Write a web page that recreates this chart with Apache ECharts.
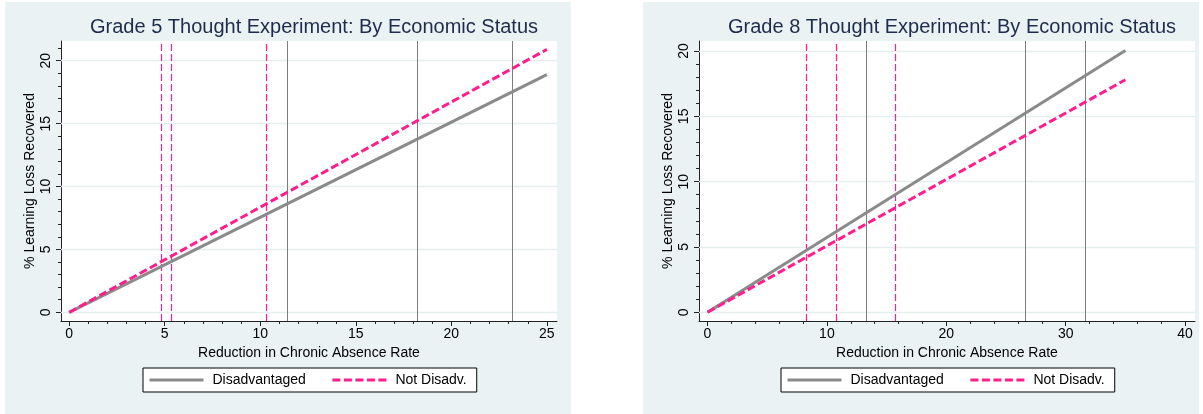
<!DOCTYPE html>
<html>
<head>
<meta charset="utf-8">
<script src="https://cdn.jsdelivr.net/npm/echarts@6/dist/echarts.min.js"></script>
<style>
  html, body { margin: 0; padding: 0; background: #ffffff; }
  #chart { width: 1203px; height: 414px; }
</style>
</head>
<body>
<div id="chart"></div>
<script>
// ---- Shared labels ----
const seriesNames = ['Disadvantaged', 'Not Disadv.'];
const xAxisTitle = 'Reduction in Chronic Absence Rate';
const yAxisTitle = '% Learning Loss Recovered';

// ---- Grade 5 ----
const g5Title = 'Grade 5 Thought Experiment: By Economic Status';
const g5X = [0, 25];
const g5Disadv = [0, 18.9];
const g5NotDisadv = [0, 20.9];
const g5DisadvMarks = [11.41, 18.21, 23.18];
const g5NotDisadvMarks = [4.84, 5.32, 10.33];
const g5XMajor = [0, 5, 10, 15, 20, 25];
const g5XMinor = [1, 2, 3, 4, 6, 7, 8, 9, 11, 12, 13, 14, 16, 17, 18, 19, 21, 22, 23, 24];
const g5YMajor = [0, 5, 10, 15, 20];
const g5YMinor = [1, 2, 3, 4, 6, 7, 8, 9, 11, 12, 13, 14, 16, 17, 18, 19, 21];

// ---- Grade 8 ----
const g8Title = 'Grade 8 Thought Experiment: By Economic Status';
const g8X = [0, 35];
const g8Disadv = [0, 20.05];
const g8NotDisadv = [0, 17.8];
const g8DisadvMarks = [13.33, 26.62, 31.62];
const g8NotDisadvMarks = [8.25, 10.76, 15.73];
const g8XMajor = [0, 10, 20, 30, 40];
const g8XMinor = [2, 4, 6, 8, 12, 14, 16, 18, 22, 24, 26, 28, 32, 34, 36, 38];
const g8YMajor = [0, 5, 10, 15, 20];
const g8YMinor = [1, 2, 3, 4, 6, 7, 8, 9, 11, 12, 13, 14, 16, 17, 18, 19];

// ---- Styling / layout ----
const FONT = '"Liberation Sans", Arial, Helvetica, sans-serif';
const PANEL_BG = '#eaf2f3';
const GRID_LINE = '#e6eff0';
const AXIS_COLOR = '#222222';
const GRAY = '#8a8a8a';
const PINK = '#ff1e8c';

const panels = [
  {
    title: g5Title, x: g5X, disadv: g5Disadv, notDisadv: g5NotDisadv,
    disadvMarks: g5DisadvMarks, notDisadvMarks: g5NotDisadvMarks,
    xMajor: g5XMajor, xMinor: g5XMinor, yMajor: g5YMajor, yMinor: g5YMinor,
    xRange: [-0.43, 25.53], yRange: [-0.69, 21.57],
    grid: { left: 61, top: 41, width: 496, height: 280 },
    bg: { x: 5, y: 2, width: 566, height: 412 },
    legendLeft: 143
  },
  {
    title: g8Title, x: g8X, disadv: g8Disadv, notDisadv: g8NotDisadv,
    disadvMarks: g8DisadvMarks, notDisadvMarks: g8NotDisadvMarks,
    xMajor: g8XMajor, xMinor: g8XMinor, yMajor: g8YMajor, yMinor: g8YMinor,
    xRange: [-0.71, 40.83], yRange: [-0.67, 20.77],
    grid: { left: 699, top: 41, width: 496, height: 280 },
    bg: { x: 643, y: 2, width: 556, height: 412 },
    legendLeft: 781
  }
];

const option = {
  animation: false,
  backgroundColor: '#ffffff',
  graphic: [],
  title: [],
  legend: [],
  grid: [],
  xAxis: [],
  yAxis: [],
  series: []
};

const tickLine = { color: AXIS_COLOR, width: 1 };

panels.forEach((p, i) => {
  option.graphic.push({
    type: 'rect', z: -10, silent: true,
    shape: { x: p.bg.x, y: p.bg.y, width: p.bg.width, height: p.bg.height },
    style: { fill: PANEL_BG }
  });

  option.title.push({
    text: p.title,
    left: p.grid.left + p.grid.width / 2,
    top: 12,
    textAlign: 'center',
    textStyle: { fontFamily: FONT, fontSize: 20, fontWeight: 'normal', color: '#1e2b4b' }
  });

  // legend keys are plain line samples (the marker dot is hidden)
  option.legend.push({
    data: seriesNames,
    left: p.legendLeft, top: 368,
    orient: 'horizontal',
    itemWidth: 54, itemHeight: 14, itemGap: 25,
    padding: [5, 10, 5, 5],
    borderColor: '#000', borderWidth: 1, backgroundColor: '#ffffff',
    selectedMode: false,
    itemStyle: { opacity: 0 },
    lineStyle: { width: 3 },
    textStyle: { fontFamily: FONT, fontSize: 14, color: '#000', padding: [0, 0, 0, 4] }
  });

  option.grid.push(Object.assign({
    show: true, backgroundColor: '#ffffff', borderWidth: 0
  }, p.grid));

  const xi = option.xAxis.length;
  const yi = option.yAxis.length;

  // major x axis: line, labels, long ticks, title
  option.xAxis.push({
    type: 'value', gridIndex: i, position: 'bottom',
    min: p.xRange[0], max: p.xRange[1],
    axisLine: { show: true, onZero: false, lineStyle: tickLine },
    axisTick: { show: true, customValues: p.xMajor, length: 5, lineStyle: tickLine },
    axisLabel: { customValues: p.xMajor, margin: 6, fontFamily: FONT, fontSize: 14, color: '#000' },
    splitLine: { show: false },
    name: xAxisTitle, nameLocation: 'middle', nameGap: 22,
    nameTextStyle: { fontFamily: FONT, fontSize: 14, color: '#000' }
  });
  // minor x ticks
  option.xAxis.push({
    type: 'value', gridIndex: i, position: 'bottom',
    min: p.xRange[0], max: p.xRange[1],
    axisLine: { show: false, onZero: false },
    axisTick: { show: true, customValues: p.xMinor, length: 3, lineStyle: tickLine },
    axisLabel: { show: false },
    splitLine: { show: false }
  });

  option.yAxis.push({
    type: 'value', gridIndex: i, position: 'left',
    min: p.yRange[0], max: p.yRange[1],
    axisLine: { show: true, onZero: false, lineStyle: tickLine },
    axisTick: { show: true, customValues: p.yMajor, length: 5, lineStyle: tickLine },
    axisLabel: { customValues: p.yMajor, rotate: 90, margin: 8, fontFamily: FONT, fontSize: 14, color: '#000' },
    splitLine: { show: false },
    name: yAxisTitle, nameLocation: 'middle', nameGap: 24, nameRotate: 90,
    nameTextStyle: { fontFamily: FONT, fontSize: 14, color: '#000' }
  });
  option.yAxis.push({
    type: 'value', gridIndex: i, position: 'left',
    min: p.yRange[0], max: p.yRange[1],
    axisLine: { show: false, onZero: false },
    axisTick: { show: true, customValues: p.yMinor, length: 3, lineStyle: tickLine },
    axisLabel: { show: false },
    splitLine: { show: false }
  });

  // horizontal gridlines at the labelled y values (bottom layer)
  option.series.push({
    type: 'line', xAxisIndex: xi, yAxisIndex: yi, data: [], silent: true, z: 1,
    markLine: {
      z: 1, silent: true, symbol: ['none', 'none'], label: { show: false },
      lineStyle: { color: GRID_LINE, width: 1.3, type: 'solid' },
      data: p.yMajor.map(v => ({ yAxis: v }))
    }
  });

  // reference lines for each group
  option.series.push({
    type: 'line', xAxisIndex: xi, yAxisIndex: yi, data: [], silent: true, z: 2,
    markLine: {
      z: 2, silent: true, symbol: ['none', 'none'], label: { show: false },
      lineStyle: { color: '#7c7c7c', width: 1, type: 'solid' },
      data: p.disadvMarks.map(v => ({ xAxis: v }))
    }
  });
  option.series.push({
    type: 'line', xAxisIndex: xi, yAxisIndex: yi, data: [], silent: true, z: 2,
    markLine: {
      z: 2, silent: true, symbol: ['none', 'none'], label: { show: false },
      lineStyle: { color: PINK, width: 1.2, type: [7, 3] },
      data: p.notDisadvMarks.map(v => ({ xAxis: v }))
    }
  });

  // the two fitted lines (top layer)
  option.series.push({
    name: seriesNames[0], type: 'line', xAxisIndex: xi, yAxisIndex: yi,
    symbol: 'none', silent: true, z: 4,
    data: p.x.map((x, k) => [x, p.disadv[k]]),
    lineStyle: { color: GRAY, width: 3, type: 'solid' },
    itemStyle: { color: GRAY }
  });
  option.series.push({
    name: seriesNames[1], type: 'line', xAxisIndex: xi, yAxisIndex: yi,
    symbol: 'none', silent: true, z: 4,
    data: p.x.map((x, k) => [x, p.notDisadv[k]]),
    lineStyle: { color: PINK, width: 3, type: [8, 3.5] },
    itemStyle: { color: PINK }
  });
});

const chart = echarts.init(document.getElementById('chart'), null, { renderer: 'canvas' });
chart.setOption(option);
</script>
</body>
</html>
